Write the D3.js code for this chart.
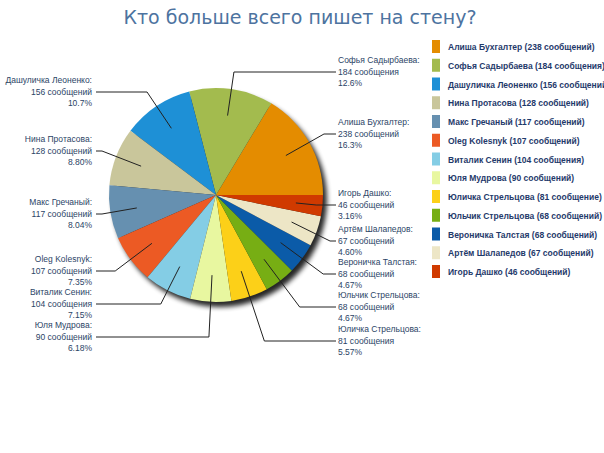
<!DOCTYPE html>
<html><head><meta charset="utf-8">
<script src="https://cdn.jsdelivr.net/npm/d3@7"></script>
<style>body{margin:0;background:#fff}</style></head>
<body><svg id="c" width="604" height="453"></svg>
<script>
const names = ["Алиша Бухгалтер","Софья Садырбаева","Дашуличка Леоненко","Нина Протасова","Макс Гречаный","Oleg Kolesnyk","Виталик Сенин","Юля Мудрова","Юличка Стрельцова","Юльчик Стрельцова","Вероничка Талстая","Артём Шалапедов","Игорь Дашко"];
const values = [238,184,156,128,117,107,104,90,81,68,68,67,46];
const percents = ["16.3%","12.6%","10.7%","8.80%","8.04%","7.35%","7.15%","6.18%","5.57%","4.67%","4.67%","4.60%","3.16%"];
const words = ["сообщений","сообщения","сообщений","сообщений","сообщений","сообщений","сообщения","сообщений","сообщение","сообщений","сообщений","сообщений","сообщений"];
const pieWords = ["сообщений","сообщения","сообщений","сообщений","сообщений","сообщений","сообщения","сообщений","сообщения","сообщений","сообщений","сообщений","сообщений"];
const colors = ["#e48c00","#a3bb4e","#1e90d6","#c9c69b","#6690b0","#ec5a24","#84cde5","#e8f7a0","#fcd018","#77ae14","#0b5ba8","#ede6c6","#d03a00"];
// label layout: first-line baseline for each slice label
const labelRow = [125,63,83,142,205,262,295,328,332,298,265,232,196];

const svg = d3.select("#c");
const cx=216, cy=195, R=107;
const txt="#2b4466";
const FF="Liberation Sans, Arial, sans-serif";

svg.append("text").attr("x",300).attr("y",24).attr("text-anchor","middle")
  .attr("font-family","DejaVu Sans, sans-serif").attr("font-size",19).attr("fill","#4d73a0")
  .text("Кто больше всего пишет на стену?");

const defs=svg.append("defs");
const f=defs.append("filter").attr("id","sh").attr("x","-20%").attr("y","-20%").attr("width","140%").attr("height","140%");
f.append("feGaussianBlur").attr("stdDeviation",2.5);

const pie=d3.pie().sort(null).startAngle(Math.PI/2).endAngle(Math.PI/2-2*Math.PI);
const arcs=pie(values);
const arc=d3.arc().innerRadius(0).outerRadius(R);
const g=svg.append("g").attr("transform",`translate(${cx},${cy})`);
g.append("circle").attr("cx",4).attr("cy",5).attr("r",R).attr("fill","#000").attr("opacity",0.85).attr("filter","url(#sh)");
g.selectAll("path.s").data(arcs).join("path").attr("d",arc).attr("fill",(d,i)=>colors[i]);

const lines=svg.append("g").attr("font-family",FF).attr("font-size",8.5).attr("fill",txt);
arcs.forEach((d,i)=>{
  const a=(d.startAngle+d.endAngle)/2;
  const ux=Math.sin(a), uy=-Math.cos(a);
  const sx=cx+ux*R*0.75, sy=cy+uy*R*0.75;
  const right=ux>0;
  const ly=labelRow[i]+9;
  let ex=sx+(Math.abs(uy)>0.05?(ly-sy)*ux/uy:0);
  if((ly-sy)*uy<0) ex=sx;
  const tx=right?338:94;
  if(right) ex=Math.min(Math.max(ex,sx),330); else ex=Math.max(Math.min(ex,sx),102);
  lines.append("path").attr("d",`M${sx},${sy}L${ex},${ly}L${right?tx-2:tx+2},${ly}`)
    .attr("fill","none").attr("stroke","#222").attr("stroke-width",1);
  const t=lines.append("text").attr("text-anchor",right?"start":"end");
  [names[i]+":", values[i]+" "+pieWords[i], percents[i]].forEach((s,k)=>{
    t.append("tspan").attr("x",right?tx:tx-2).attr("y",labelRow[i]+k*11.5).text(s);
  });
});

const lg=svg.append("g");
names.forEach((n,i)=>{
  const y=40+i*18.75;
  lg.append("rect").attr("x",432).attr("y",y).attr("width",8).attr("height",13).attr("fill",colors[i]);
  lg.append("text").attr("x",448).attr("y",y+10).attr("font-family",FF)
    .attr("font-size",8.5).attr("font-weight","bold").attr("fill","#1f3a6b")
    .text(`${n} (${values[i]} ${words[i]})`);
});
</script></body></html>
